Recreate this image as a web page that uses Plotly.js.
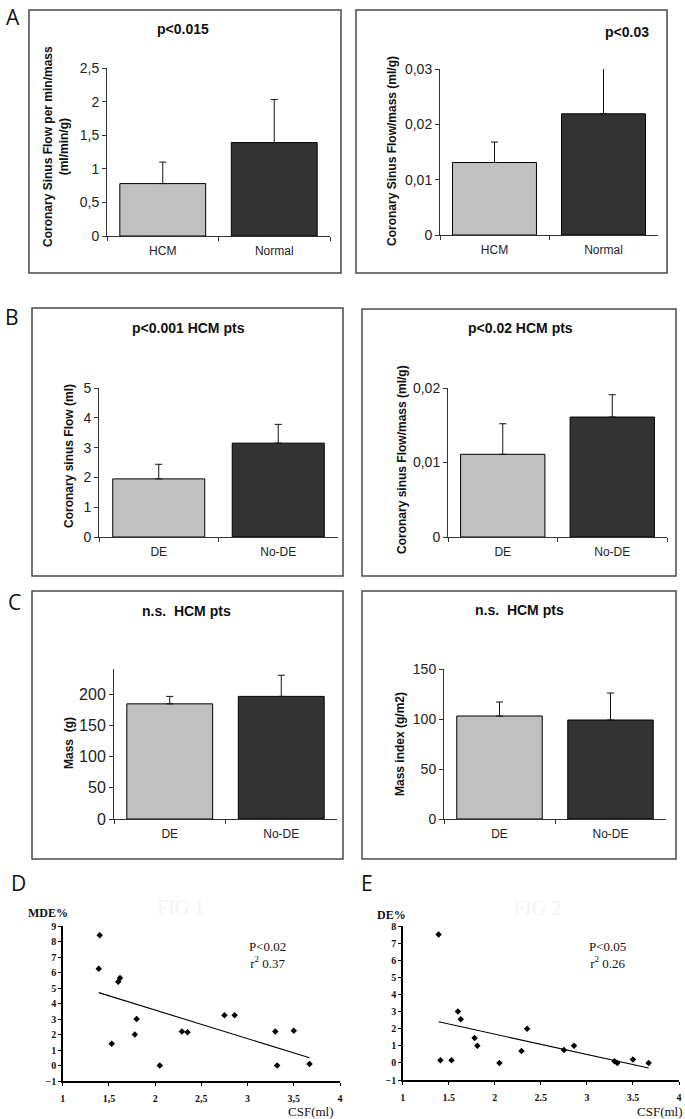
<!DOCTYPE html>
<html>
<head>
<meta charset="utf-8">
<script src="https://cdn.plot.ly/plotly-3.0.1.min.js"></script>
<style>html,body{margin:0;padding:0;background:#fff;}#chart{width:685px;height:1119px;}</style>
</head>
<body>
<div id="chart"></div>
<script>
// ---------- DATA ----------
const catsA = ['HCM', 'Normal'];
const catsDE = ['DE', 'No-DE'];

const flowMinMassMean = [0.78, 1.39];
const flowMinMassErr  = [0.32, 0.64];

const flowMassMean = [0.0131, 0.0219];
const flowMassErr  = [0.0037, 0.0086];

const csFlowMean = [1.95, 3.15];
const csFlowErr  = [0.49, 0.63];

const csFlowMassMean = [0.0111, 0.0161];
const csFlowMassErr  = [0.0041, 0.0030];

const massMean = [185, 197];
const massErr  = [12, 34];

const massIndexMean = [103, 99];
const massIndexErr  = [14, 27];

const barColors = ['#c0c0c0', '#333333'];

// scatter D
const dX = [1.40, 1.39, 1.60, 1.62, 1.53, 1.78, 1.80, 2.05, 2.29, 2.35, 2.75, 2.86, 3.30, 3.32, 3.50, 3.67];
const dY = [8.4, 6.25, 5.4, 5.65, 1.4, 2.0, 3.0, 0.0, 2.2, 2.15, 3.25, 3.25, 2.2, 0.0, 2.25, 0.1];
const dLineX = [1.39, 3.67];
const dLineY = [4.7, 0.5];

// scatter E
const eX = [1.39, 1.41, 1.53, 1.60, 1.63, 1.78, 1.81, 2.05, 2.29, 2.35, 2.75, 2.86, 3.30, 3.33, 3.50, 3.67];
const eY = [7.5, 0.15, 0.15, 3.0, 2.55, 1.45, 1.0, 0.0, 0.7, 2.0, 0.75, 1.0, 0.1, 0.0, 0.2, 0.0];
const eLineX = [1.39, 3.67];
const eLineY = [2.4, -0.3];

const xTicksSc = [1, 1.5, 2, 2.5, 3, 3.5, 4];
const xTickTextD = ['1', '1,5', '2', '2,5', '3', '3,5', '4'];
const xTickTextE = ['1', '1.5', '2', '2.5', '3', '3.5', '4'];

// ---------- LAYOUT HELPERS ----------
const W = 685, H = 1119;
const dx = (a, b) => [a / W, b / W];
const dy = (top, bottom) => [1 - bottom / H, 1 - top / H];
const px = v => v / W;
const py = v => 1 - v / H;

const traces = [];
const layout = {
  width: W, height: H,
  margin: {l: 0, r: 0, t: 0, b: 0},
  paper_bgcolor: '#fff', plot_bgcolor: 'rgba(0,0,0,0)',
  showlegend: false,
  annotations: [], shapes: []
};

function barPanel(idx, cats, mean, err, xd, yd, yrange, tickvals, ticktext, tickSize) {
  const xa = idx === 1 ? 'x' : 'x' + idx;
  const ya = idx === 1 ? 'y' : 'y' + idx;
  traces.push({
    type: 'bar', x: cats, y: mean, xaxis: xa, yaxis: ya,
    width: 0.77,
    marker: {color: barColors, line: {color: '#000', width: 1}},
    error_y: {type: 'data', symmetric: false, array: err, arrayminus: [0, 0], color: '#111', thickness: 1, width: 3.5},
    hoverinfo: 'skip'
  });
  layout['xaxis' + (idx === 1 ? '' : idx)] = {
    domain: xd, anchor: ya, type: 'category', range: [-0.5, 1.5],
    showline: true, linecolor: '#333', linewidth: 1,
    ticks: 'outside', tickson: 'boundaries', ticklen: 4, tickcolor: '#333',
    tickfont: {family: 'Arial, Liberation Sans, sans-serif', size: 12, color: '#222'},
    ticklabelstandoff: 4,
    showgrid: false, zeroline: false, fixedrange: true
  };
  layout['yaxis' + (idx === 1 ? '' : idx)] = {
    domain: yd, anchor: xa, range: yrange,
    tickmode: 'array', tickvals: tickvals, ticktext: ticktext,
    showline: true, linecolor: '#333', linewidth: 1,
    ticks: 'outside', ticklen: 4, tickcolor: '#333',
    tickfont: {family: 'Arial, Liberation Sans, sans-serif', size: tickSize, color: '#222'},
    showgrid: false, zeroline: false, fixedrange: true
  };
}

barPanel(1, catsA, flowMinMassMean, flowMinMassErr, dx(107, 330), dy(68, 236), [0, 2.5],
  [0, 0.5, 1, 1.5, 2, 2.5], ['0', '0,5', '1', '1,5', '2', '2,5'], 14);
barPanel(2, catsA, flowMassMean, flowMassErr, dx(440, 658), dy(69, 235), [0, 0.03],
  [0, 0.01, 0.02, 0.03], ['0', '0,01', '0,02', '0,03'], 14);
barPanel(3, catsDE, csFlowMean, csFlowErr, dx(99, 338), dy(388, 537), [0, 5],
  [0, 1, 2, 3, 4, 5], ['0', '1', '2', '3', '4', '5'], 14);
barPanel(4, catsDE, csFlowMassMean, csFlowMassErr, dx(448, 667), dy(388, 537), [0, 0.02],
  [0, 0.01, 0.02], ['0', '0,01', '0,02'], 14);
barPanel(5, catsDE, massMean, massErr, dx(114, 337), dy(669, 819), [0, 241],
  [0, 50, 100, 150, 200], ['0', '50', '100', '150', '200'], 16);
barPanel(6, catsDE, massIndexMean, massIndexErr, dx(444, 666), dy(669, 819), [0, 150],
  [0, 50, 100, 150], ['0', '50', '100', '150'], 14);

function scatterPanel(idx, xs, ys, lx, ly, xd, yd, yrange, yticks, xticktext) {
  const xa = 'x' + idx, ya = 'y' + idx;
  traces.push({
    type: 'scatter', mode: 'lines', x: lx, y: ly, xaxis: xa, yaxis: ya,
    line: {color: '#000', width: 1.1}, hoverinfo: 'skip'
  });
  traces.push({
    type: 'scatter', mode: 'markers', x: xs, y: ys, xaxis: xa, yaxis: ya,
    marker: {symbol: 'diamond', size: 5, color: '#000'}, hoverinfo: 'skip', cliponaxis: false
  });
  const tf = {family: 'Liberation Serif, Times New Roman, serif', size: 10, color: '#111', weight: 'bold'};
  layout['xaxis' + idx] = {
    domain: xd, anchor: ya, range: [1, 4],
    tickmode: 'array', tickvals: xTicksSc, ticktext: xticktext,
    showline: true, linecolor: '#000', linewidth: 1.5,
    ticks: 'outside', ticklen: 3, tickcolor: '#000', tickfont: tf,
    ticklabelstandoff: 4,
    showgrid: false, zeroline: false, fixedrange: true
  };
  layout['yaxis' + idx] = {
    domain: yd, anchor: xa, range: yrange,
    tickmode: 'array', tickvals: yticks,
    showline: true, linecolor: '#000', linewidth: 1.5,
    ticks: 'outside', ticklen: 3, tickcolor: '#000', tickfont: tf,
    showgrid: false, zeroline: false, fixedrange: true
  };
}

scatterPanel(7, dX, dY, dLineX, dLineY, dx(62.7, 340), dy(926, 1081), [-1, 9],
  [-1, 0, 1, 2, 3, 4, 5, 6, 7, 8, 9], xTickTextD);
scatterPanel(8, eX, eY, eLineX, eLineY, dx(402.7, 679), dy(926, 1080), [-1, 8],
  [-1, 0, 1, 2, 3, 4, 5, 6, 7, 8], xTickTextE);

// ---------- PANEL BOXES ----------
const boxes = [
  [29, 10, 341, 273], [356, 10, 667, 273],
  [32, 308, 343, 576], [362, 309, 676, 576],
  [32, 591, 343, 859], [362, 591, 676, 859]
];
boxes.forEach(b => layout.shapes.push({
  type: 'rect', xref: 'paper', yref: 'paper',
  x0: px(b[0]), x1: px(b[2]), y0: py(b[3]), y1: py(b[1]),
  line: {color: '#4a4a4a', width: 1.5}, fillcolor: 'rgba(0,0,0,0)', layer: 'below'
}));

// ---------- TEXT ----------
function ann(text, x, y, font, extra) {
  layout.annotations.push(Object.assign({
    text: text, xref: 'paper', yref: 'paper', x: px(x), y: py(y),
    xanchor: 'center', yanchor: 'middle', showarrow: false, font: font
  }, extra || {}));
}
const titleFont = {family: 'Arial, Liberation Sans, sans-serif', size: 14, color: '#111', weight: 'bold'};
const yTitleFont = {family: 'Arial, Liberation Sans, sans-serif', size: 12, color: '#111', weight: 'bold'};
const letterFont = {family: 'Open Sans, sans-serif', size: 21, color: '#111'};
const serifFont = {family: 'Liberation Serif, Times New Roman, serif', size: 13, color: '#111'};

ann('p&lt;0.015', 183, 29, titleFont);
ann('p&lt;0.03', 627, 32, titleFont);
ann('p&lt;0.001 HCM pts', 188, 328, titleFont);
ann('p&lt;0.02 HCM pts', 520, 328, titleFont);
ann('n.s.  HCM pts', 187, 611, titleFont);
ann('n.s.  HCM pts', 519, 610, titleFont);

ann('Coronary Sinus Flow per min/mass<br>(ml/min/g)', 56, 147, yTitleFont, {textangle: -90});
ann('Coronary Sinus Flow/mass (ml/g)', 392, 151, yTitleFont, {textangle: -90});
ann('Coronary sinus Flow (ml)', 69, 456, yTitleFont, {textangle: -90});
ann('Coronary sinus Flow/mass (ml/g)', 402, 460, yTitleFont, {textangle: -90});
ann('Mass  (g)', 69, 743, yTitleFont, {textangle: -90});
ann('Mass index (g/m2)', 400, 744, yTitleFont, {textangle: -90});

ann('A', 13, 17, letterFont);
ann('B', 12, 317, letterFont);
ann('C', 14, 602, letterFont);
ann('D', 18, 883, letterFont);
ann('E', 367, 883, letterFont);

// scatter texts
ann('FIG 1', 180, 907, {family: 'Liberation Serif, serif', size: 20, color: '#f3f3f3'});
ann('FIG 2', 537, 908, {family: 'Liberation Serif, serif', size: 20, color: '#f3f3f3'});
ann('MDE%', 48, 913, {family: 'Liberation Serif, serif', size: 12, color: '#111', weight: 'bold'});
ann('DE%', 392, 915, {family: 'Liberation Serif, serif', size: 12, color: '#111', weight: 'bold'});
ann('P&lt;0.02<br>r<sup>2</sup> 0.37', 267, 955, serifFont);
ann('P&lt;0.05<br>r<sup>2</sup> 0.26', 607, 955, serifFont);
ann('CSF(ml)', 311, 1111, {family: 'Liberation Serif, serif', size: 13, color: '#111'});
ann('CSF(ml)', 660, 1111, {family: 'Liberation Serif, serif', size: 13, color: '#111'});

Plotly.newPlot('chart', traces, layout, {staticPlot: true, displayModeBar: false});
</script>
</body>
</html>
